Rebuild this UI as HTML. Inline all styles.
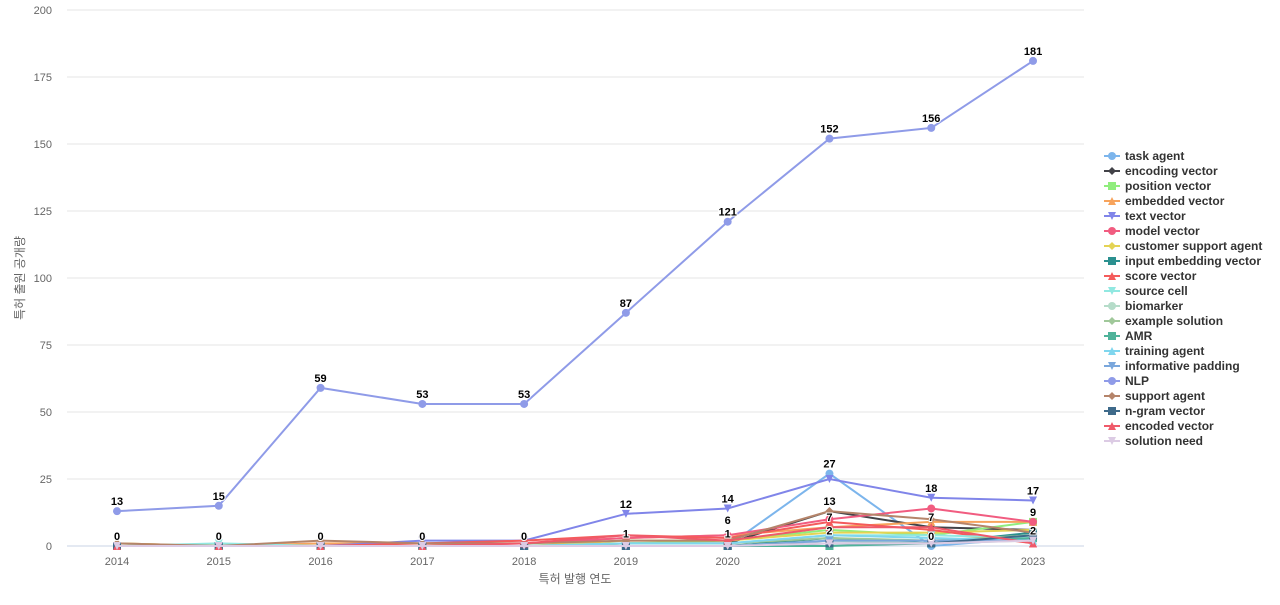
<!DOCTYPE html>
<html><head><meta charset="utf-8">
<style>
html,body{margin:0;padding:0;background:#fff;}
svg text{font-family:"Liberation Sans","Noto Sans CJK KR",sans-serif;}
</style></head>
<body>
<svg id="c" width="1280" height="600" xmlns="http://www.w3.org/2000/svg"></svg>
<script>
const s=document.getElementById('c');
const NS="http://www.w3.org/2000/svg";
function el(t,a,txt){const e=document.createElementNS(NS,t);for(const k in a)e.setAttribute(k,a[k]);if(txt!==undefined)e.textContent=txt;s.appendChild(e);return e;}
const X=i=>117+i*101.78, Y=v=>546-v*2.68;
// grid
for(let v=0;v<=200;v+=25){el('line',{x1:67,x2:1084,y1:Y(v),y2:Y(v),stroke:v==0?'#c8d3e6':'#e6e6e6','stroke-width':1});
el('text',{x:52,y:Y(v)+4,'text-anchor':'end','font-size':11,fill:'#666'},v);}
for(let i=0;i<10;i++)el('text',{x:X(i),y:565,'text-anchor':'middle','font-size':11,fill:'#666'},2014+i);
el('text',{x:575,y:583,'text-anchor':'middle','font-size':12,fill:'#666'},'특허 발행 연도');
el('text',{x:24,y:278,'text-anchor':'middle','font-size':12,fill:'#666',transform:'rotate(-90 24 278)'},'특허 출원 공개량');
const series=[
['task agent','#7cb5ec','c',[0,0,0,0,0,0,0,27,0,3]],
['encoding vector','#434348','d',[0,0,0,0,0,1,1,13,7,6]],
['position vector','#90ed7d','s',[0,0,0,0,0,1,2,6,4,9]],
['embedded vector','#f7a35c','t',[1,0,1,1,1,3,4,7,9,9]],
['text vector','#8085e9','v',[0,0,0,2,2,12,14,25,18,17]],
['model vector','#f15c80','c',[0,0,0,0,1,3,4,10,14,9]],
['customer support agent','#e4d354','d',[1,0,0,0,0,2,2,5,5,6]],
['input embedding vector','#2b908f','s',[0,0,0,0,0,0,0,3,1,5]],
['score vector','#f45b5b','t',[0,0,0,1,2,4,3,9,6,1]],
['source cell','#91e8e1','v',[0,1,0,0,0,1,1,4,4,3]],
['biomarker','#b5dcc9','c',[0,0,0,0,0,0,0,2,1,2]],
['example solution','#a0c89a','d',[0,0,0,0,0,1,1,3,2,4]],
['AMR','#4fb39a','s',[0,0,0,0,0,0,0,0,1,3]],
['training agent','#7fd6ee','t',[0,0,0,0,0,1,1,4,3,2]],
['informative padding','#7aa7dc','v',[0,0,0,0,0,0,0,2,2,2]],
['NLP','#8f9be8','c',[13,15,59,53,53,87,121,152,156,181]],
['support agent','#b5846a','d',[1,0,2,1,1,2,2,13,10,5]],
['n-gram vector','#3e6a8a','s',[0,0,0,0,0,0,0,1,1,4]],
['encoded vector','#ef5a6a','t',[0,0,0,0,1,4,2,7,7,1]],
['solution need','#dccbe4','v',[0,0,0,0,0,0,0,1,1,2]]];
function marker(type,x,y,c,r){
 r=r||4;
 if(type=='c')el('circle',{cx:x,cy:y,r:r,fill:c});
 else if(type=='s')el('rect',{x:x-r,y:y-r,width:2*r,height:2*r,fill:c});
 else if(type=='d')el('path',{d:`M${x} ${y-r}L${x+r} ${y}L${x} ${y+r}L${x-r} ${y}Z`,fill:c});
 else if(type=='t')el('path',{d:`M${x} ${y-r}L${x+r} ${y+r}L${x-r} ${y+r}Z`,fill:c});
 else el('path',{d:`M${x} ${y+r}L${x+r} ${y-r}L${x-r} ${y-r}Z`,fill:c});
}
for(const [n,c,m,d] of series){
 el('polyline',{points:d.map((v,i)=>X(i)+','+Y(v)).join(' '),fill:'none',stroke:c,'stroke-width':2});
 d.forEach((v,i)=>marker(m,X(i),Y(v),c));
}
// labels
const lab=[[0,13,13],[1,15,15],[2,59,59],[3,53,53],[4,53,53],[5,87,87],[6,121,121],[7,152,152],[8,156,156],[9,181,181],
[0,0,0],[1,0,0],[2,0,0],[3,0,0],[4,0,0],[5,12,12],[6,14,14],[7,27,27],[8,18,18],[9,17,17],
[5,1,1],[6,6,6],[6,1,1],[7,13,13],[7,7,7],[7,2,2],[8,7,7],[8,0,0],[9,9,9],[9,2,2]];
for(const [i,v,t] of lab)el('text',{x:X(i),y:Y(v)-6,'text-anchor':'middle','font-size':11,'font-weight':'bold',fill:'#000',stroke:'#fff','stroke-width':2,'paint-order':'stroke'},t);
// legend
series.forEach(([n,c,m],k)=>{const y=156+k*15;
 el('line',{x1:1104,x2:1120,y1:y,y2:y,stroke:c,'stroke-width':2});marker(m,1112,y,c,4);
 el('text',{x:1125,y:y+4,'font-size':12,'font-weight':'bold',fill:'#333'},n);});
</script>
</body></html>
